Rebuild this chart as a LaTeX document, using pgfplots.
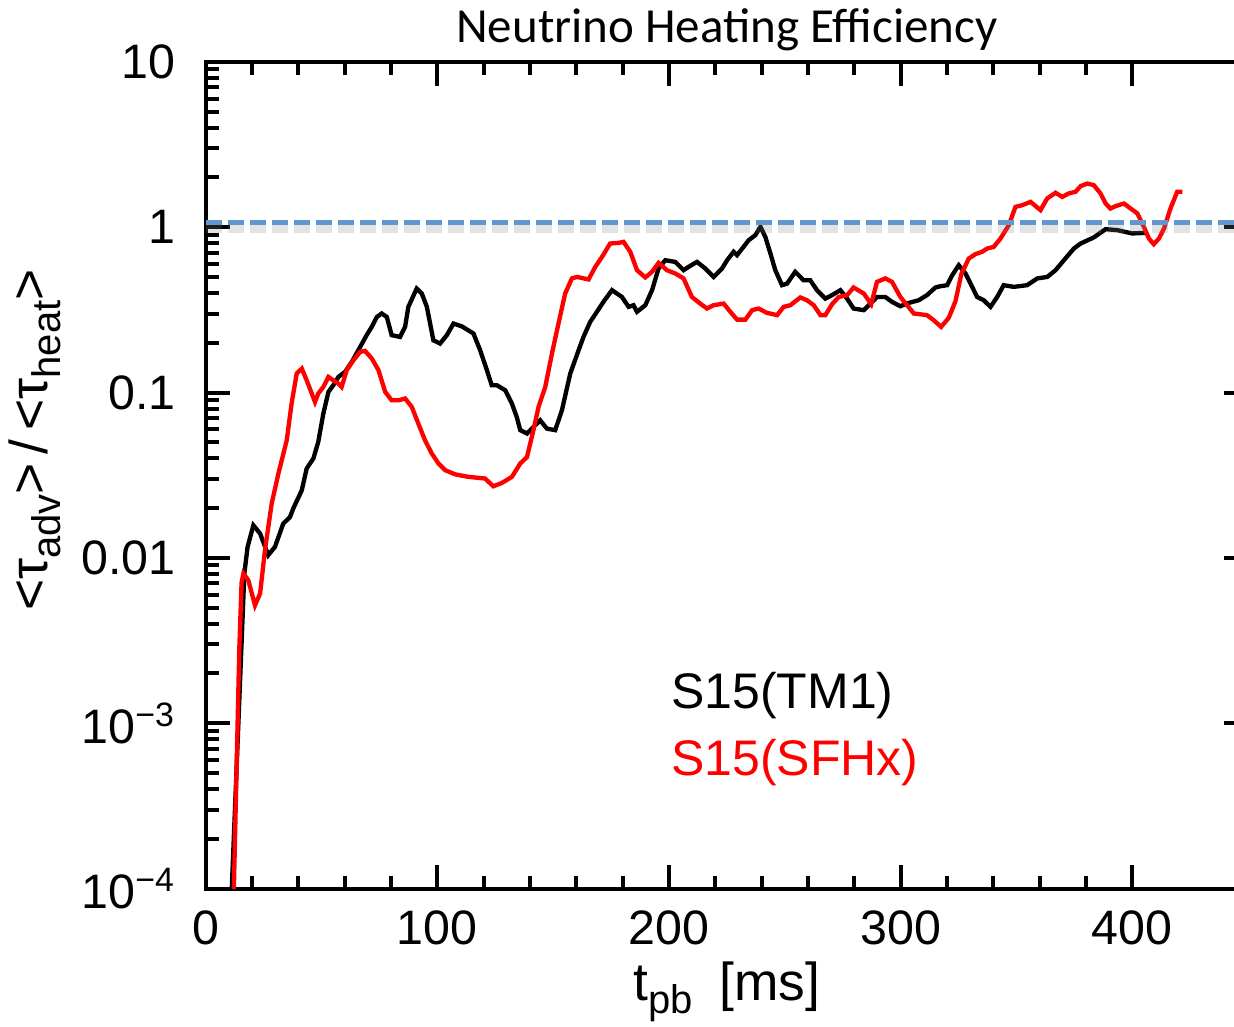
\documentclass[border=0pt]{standalone}
\usepackage{fontspec}
\setmainfont{Liberation Sans}
\newfontfamily\titlefont{Carlito}
\usepackage{pgfplots}
\pgfplotsset{compat=1.18}
\definecolor{dashblue}{RGB}{99,150,205}
\newcommand\sub[1]{\raisebox{-0.45ex}{\fontsize{12}{12}\selectfont #1}}
\begin{document}
\begin{tikzpicture}
\begin{axis}[
  scale only axis, width=312.7pt, height=248pt,
  xmin=0, xmax=450, ymode=log, ymin=1e-4, ymax=10,
  xtick={0,100,200,300,400}, xticklabels={0,100,200,300,400},
  minor x tick num=4,
  ytick={1e-4,1e-3,0.01,0.1,1,10},
  yticklabels={10\textsuperscript{−4},10\textsuperscript{−3},0.01,0.1,1,10},
  minor ytick={2e-4,3e-4,4e-4,5e-4,6e-4,7e-4,8e-4,9e-4,2e-3,3e-3,4e-3,5e-3,6e-3,7e-3,8e-3,9e-3,0.02,0.03,0.04,0.05,0.06,0.07,0.08,0.09,0.2,0.3,0.4,0.5,0.6,0.7,0.8,0.9,2,3,4,5,6,7,8,9},
  tick label style={font=\fontsize{14.5}{14.5}\selectfont},
  yticklabel style={xshift=-5.5pt},
  xticklabel style={yshift=-3pt},
  axis line style={line width=1.2pt},
  tick style={line width=1.2pt, black},
  major tick length=7.2pt, minor tick length=3.9pt,
  tick align=inside,
  title={\titlefont\fontsize{14.7}{14.7}\selectfont Neutrino Heating Efficiency},
  every axis title/.style={at={(axis description cs:0.5,1)}, anchor=base, yshift=5.7pt, inner sep=0pt},
  xlabel={t\sub{pb}\hspace{0.5em}[ms]},
  every axis x label/.style={at={(axis description cs:0.5,0)}, anchor=base, yshift=-33.6pt, inner sep=0pt, font=\fontsize{16}{16}\selectfont},
  ylabel={<τ\sub{adv}>\,/\,<τ\sub{heat}>},
  every axis y label/.style={at={(axis description cs:-0.1516,0.5424)}, rotate=90, anchor=base, inner sep=0pt, font=\fontsize{16}{16}\selectfont},
]
\addplot[black, line width=1.3pt] table {
x y
11.0 7.94e-5
16.7 0.00804
18.1 0.01164
20.6 0.01574
23.5 0.01403
27.0 0.01038
29.9 0.01164
33.5 0.01611
36.4 0.01766
37.8 0.01986
41.5 0.02564
43.6 0.03467
46.5 0.03990
48.6 0.05023
50.8 0.0746
53.0 0.1009
55.1 0.1107
57.3 0.1242
60.2 0.1334
63.1 0.1531
66.7 0.1888
69.5 0.2223
71.7 0.2495
73.9 0.2864
76.0 0.3006
78.2 0.2864
80.3 0.2223
83.9 0.2168
86.1 0.2495
87.5 0.3296
91.1 0.4256
93.3 0.3972
95.5 0.3296
96.9 0.2612
98.3 0.2070
101.2 0.1977
104.1 0.2223
107.0 0.2612
110.6 0.2512
115.6 0.2275
118.5 0.1803
121.4 0.1365
123.5 0.1107
125.7 0.1107
129.3 0.1033
132.2 0.0857
134.3 0.0711
135.8 0.0592
138.7 0.0565
141.5 0.0619
144.4 0.0679
147.3 0.0605
150.9 0.0592
153.8 0.0782
157.4 0.1303
161.0 0.1803
163.1 0.2168
166.0 0.2673
168.9 0.3076
171.7 0.3532
175.4 0.4159
179.7 0.3784
182.6 0.3296
184.7 0.3373
186.2 0.3076
189.8 0.3373
192.7 0.4159
195.5 0.5623
198.4 0.6310
202.7 0.6166
206.3 0.5495
208.5 0.5754
212.1 0.6166
215.7 0.5623
219.3 0.5000
222.9 0.5623
225.1 0.6310
227.9 0.7096
229.4 0.6776
232.2 0.7603
234.4 0.8337
237.3 0.8954
239.5 1.005
241.6 0.8730
243.8 0.6934
245.9 0.5495
248.8 0.4457
251.0 0.4560
254.5 0.5370
258.1 0.4775
261.0 0.4775
263.9 0.4159
267.5 0.3698
270.4 0.3882
274.0 0.4159
276.9 0.3698
279.7 0.3221
284.1 0.3148
287.0 0.3451
289.8 0.3784
293.4 0.3784
296.3 0.3532
299.9 0.3327
303.5 0.3483
307.8 0.3614
311.4 0.3882
315.0 0.4315
317.2 0.4395
320.1 0.4457
322.2 0.5100
325.1 0.5888
328.0 0.5248
330.9 0.4355
333.0 0.3784
335.9 0.3614
338.8 0.3296
341.7 0.3784
344.5 0.4457
348.9 0.4355
354.6 0.4457
359.0 0.4898
363.3 0.5000
366.9 0.5495
370.5 0.6310
374.8 0.7430
377.7 0.7962
383.4 0.8670
388.5 0.9727
393.5 0.9594
400.0 0.9162
406.5 0.9247
};
\addplot[red, line width=1.3pt] table {
x y
11.7 5.0e-5
14.5 0.002754
15.5 0.007079
16.3 0.008035
18.4 0.007328
21.3 0.005164
23.5 0.006081
25.6 0.01112
28.5 0.02128
31.4 0.03236
35.0 0.05140
37.1 0.08570
39.3 0.1303
41.5 0.1396
43.6 0.1186
47.2 0.0877
48.6 0.0986
50.8 0.1081
53.0 0.1242
55.1 0.1186
57.3 0.1132
58.7 0.1081
60.9 0.1365
63.8 0.1567
66.7 0.1762
68.8 0.1786
71.7 0.1607
74.6 0.1365
77.5 0.1009
80.3 0.0897
83.2 0.0897
86.1 0.0920
89.0 0.0818
91.8 0.0649
94.7 0.0514
97.6 0.0428
100.5 0.0372
103.4 0.0339
107.7 0.0320
113.4 0.0309
120.6 0.0302
124.2 0.0271
127.9 0.0284
132.2 0.0309
135.8 0.0372
138.7 0.0407
141.5 0.0592
143.7 0.0818
146.6 0.1081
149.5 0.1722
152.3 0.2612
155.2 0.3972
158.1 0.4898
160.3 0.5000
165.3 0.4831
168.2 0.5754
171.1 0.6607
174.6 0.7962
178.2 0.8035
180.4 0.8147
183.3 0.7096
186.2 0.5495
189.8 0.4966
192.7 0.5370
195.5 0.6081
199.1 0.5495
202.7 0.5248
206.3 0.4898
209.9 0.3784
213.5 0.3451
216.4 0.3221
219.3 0.3373
223.6 0.3451
226.5 0.3076
229.4 0.2761
233.0 0.2761
235.9 0.3148
238.7 0.3221
242.3 0.3034
246.7 0.2938
249.5 0.3296
252.4 0.3373
256.7 0.3758
259.6 0.3614
262.5 0.3373
265.4 0.2938
267.5 0.2938
270.4 0.3420
273.3 0.3784
276.9 0.3882
279.7 0.4315
284.1 0.3972
287.3 0.3420
289.8 0.4667
293.4 0.4898
296.3 0.4667
299.9 0.3784
305.7 0.3006
311.4 0.2938
314.3 0.2735
317.5 0.2495
320.8 0.2831
323.7 0.3573
326.2 0.5188
329.4 0.6457
332.3 0.6871
335.2 0.7096
337.4 0.7430
340.2 0.7603
343.1 0.8531
346.7 1.028
349.6 1.327
352.5 1.358
356.1 1.422
360.4 1.268
363.3 1.493
366.9 1.614
369.8 1.524
372.6 1.600
375.5 1.637
377.7 1.770
380.6 1.837
383.4 1.795
386.3 1.600
388.5 1.390
390.6 1.297
392.8 1.340
396.4 1.390
399.3 1.297
402.2 1.211
405.0 1.005
407.2 0.8531
409.3 0.7889
411.5 0.8531
413.7 0.9817
416.5 1.297
419.4 1.637
421.6 1.637
};
\addplot[gray, opacity=0.22, line width=2.6pt, dash pattern=on 4.8pt off 1.8pt] coordinates {(0,0.985) (450,0.985)};
\addplot[dashblue, line width=1.5pt, dash pattern=on 4.8pt off 1.8pt] coordinates {(0,1.06) (450,1.06)};
\node[anchor=base west, inner sep=0pt, font=\fontsize{15}{15}\selectfont] at (rel axis cs:0.446,0.218) {S15(TM1)};
\node[anchor=base west, inner sep=0pt, font=\fontsize{15}{15}\selectfont, text=red] at (rel axis cs:0.446,0.137) {S15(SFHx)};
\coordinate (BBsw) at (rel axis cs:-0.1973,-0.1666);
\coordinate (BBne) at (rel axis cs:0.9865,1.0748);
\end{axis}
\pgfresetboundingbox
\path[use as bounding box] (BBsw) rectangle (BBne);
\end{tikzpicture}
\end{document}
